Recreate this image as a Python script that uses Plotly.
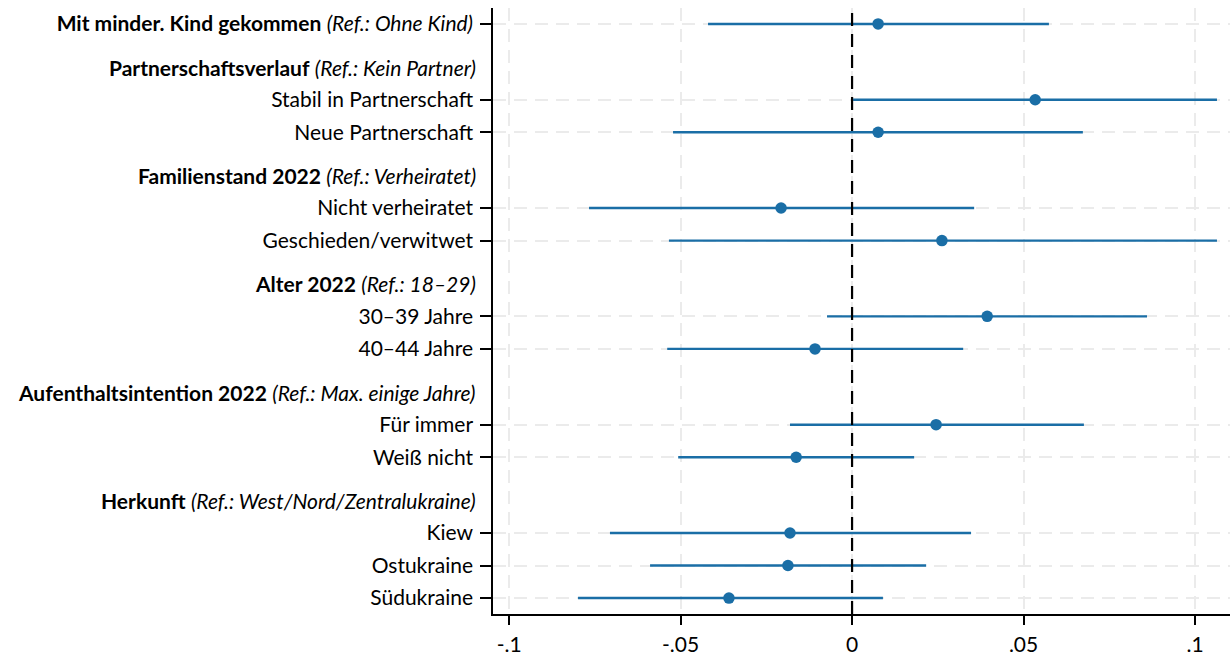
import plotly.graph_objects as go

# ---- data ----
labels = ["<b>Mit minder. Kind gekommen</b> <i>(Ref.: Ohne Kind)</i>",
          "Stabil in Partnerschaft", "Neue Partnerschaft",
          "Nicht verheiratet", "Geschieden/verwitwet",
          "30–39 Jahre", "40–44 Jahre",
          "Für immer", "Weiß nicht",
          "Kiew", "Ostukraine", "Südukraine"]
group_of = [0, 1, 1, 2, 2, 3, 3, 4, 4, 5, 5, 5]
headers = [None,
           "<b>Partnerschaftsverlauf</b> <i>(Ref.: Kein Partner)</i>",
           "<b>Familienstand 2022</b> <i>(Ref.: Verheiratet)</i>",
           "<b>Alter 2022</b> <i>(Ref.: 18–29)</i>",
           "<b>Aufenthaltsintention 2022</b> <i>(Ref.: Max. einige Jahre)</i>",
           "<b>Herkunft</b> <i>(Ref.: West/Nord/Zentralukraine)</i>"]
coef = [0.0076, 0.0534, 0.0076, -0.0207, 0.0262, 0.0394, -0.0108, 0.0245, -0.0163, -0.0181, -0.0187, -0.0359]
lo   = [-0.0420, 0.0003, -0.0522, -0.0767, -0.0534, -0.0073, -0.0539, -0.0181, -0.0507, -0.0706, -0.0589, -0.0799]
hi   = [0.0574, 0.1064, 0.0673, 0.0356, 0.1064, 0.0860, 0.0324, 0.0676, 0.0181, 0.0347, 0.0216, 0.0090]
xticks = [-0.1, -0.05, 0, 0.05, 0.1]
xticklabels = ["-.1", "-.05", "0", ".05", ".1"]

# ---- layout positions (rows) ----
GAP = 2.33
ypos = []
header_pos = {}
cur = 0.0
prev_g = None
for g in group_of:
    if prev_g is not None:
        cur += 1.0 if g == prev_g else GAP
    if g != prev_g and headers[g] is not None:
        header_pos[g] = cur - 1.0
    ypos.append(cur)
    prev_g = g

BLUE = "#1a6ea6"
FONT = "Lato"
FS = 21
GRID = "#ebebeb"
DASH = "13px,8px"

fig = go.Figure()
fig.add_trace(go.Scatter(
    x=coef, y=ypos, mode="markers",
    marker=dict(color=BLUE, size=11.5, symbol="circle"),
    error_x=dict(type="data", symmetric=False,
                 array=[h - c for h, c in zip(hi, coef)],
                 arrayminus=[c - l for c, l in zip(coef, lo)],
                 color=BLUE, thickness=2.4, width=0),
    showlegend=False, hoverinfo="skip"))

fig.add_shape(type="line", x0=0, x1=0, xref="x", y0=0, y1=1, yref="paper",
              line=dict(color="black", width=2.2, dash=DASH), layer="above")

for g, yv in header_pos.items():
    fig.add_annotation(x=0, xref="paper", y=yv, yref="y", text=headers[g],
                       showarrow=False, xanchor="right", yanchor="middle",
                       xshift=-15, font=dict(family=FONT, size=FS, color="black"))

fig.update_layout(
    width=1230, height=656,
    margin=dict(l=493, r=0, t=8, b=40),
    paper_bgcolor="white", plot_bgcolor="white",
    font=dict(family=FONT, size=FS, color="black"),
    xaxis=dict(range=[-0.1047, 0.1102], tickvals=xticks, ticktext=xticklabels,
               showgrid=True, gridcolor=GRID, griddash=DASH, gridwidth=2,
               zeroline=False, showline=True, linecolor="black", linewidth=1.5,
               ticks="outside", ticklen=9, tickcolor="black", tickwidth=1.5,
               ticklabelstandoff=2,
               tickfont=dict(family=FONT, size=FS, color="black")),
    yaxis=dict(range=[ypos[-1] + 0.49, -0.49], tickvals=ypos, ticktext=labels,
               showgrid=True, gridcolor=GRID, griddash=DASH, gridwidth=2,
               zeroline=False, showline=True, linecolor="black", linewidth=1.5,
               ticks="outside", ticklen=11, tickcolor="black", tickwidth=1.5,
               ticklabelstandoff=3,
               tickfont=dict(family=FONT, size=FS, color="black")),
)

fig.write_html("out.html", config={"displayModeBar": False},
               post_script="document.body.style.margin='0';")
